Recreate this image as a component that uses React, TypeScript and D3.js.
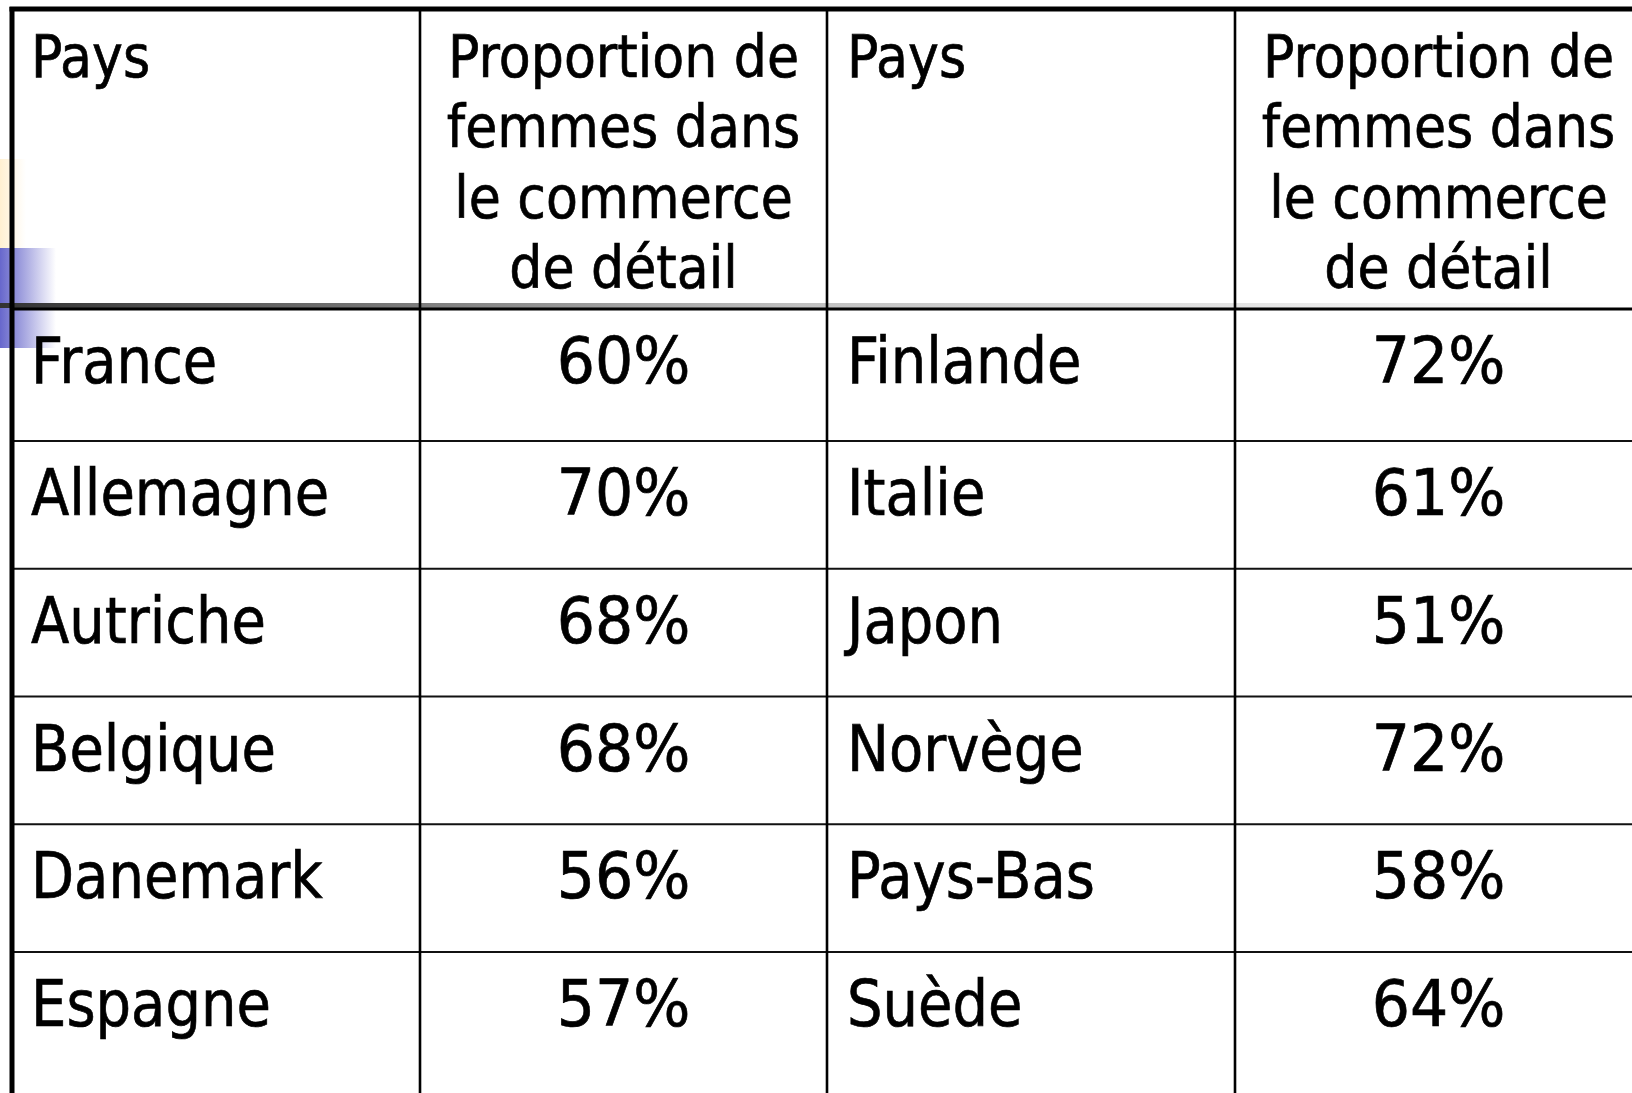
import React from "react";
import * as d3 from "d3";

const headerCountry = "Pays";
const headerValueLines = ["Proportion de", "femmes dans", "le commerce", "de détail"];
const leftCountries = ["France", "Allemagne", "Autriche", "Belgique", "Danemark", "Espagne"];
const leftValues = [60, 70, 68, 68, 56, 57];
const rightCountries = ["Finlande", "Italie", "Japon", "Norvège", "Pays-Bas", "Suède"];
const rightValues = [72, 61, 51, 72, 58, 64];

const W = 1632;
const H = 1093;
const FONT = "'DejaVu Sans', Verdana, sans-serif";

export default function App() {
  const colX = d3.scaleLinear().domain([0, 4]).range([12, 1642]);
  const c = [12, 420, 827, 1235, 1642].map((v, i) => (i === 0 || i === 4 ? colX(i) : v));
  const rowLine = d3.scaleLinear().domain([1, 5]).range([441, 952]);
  const rowTop = (i: number) => (i === 0 ? 309 : rowLine(i));
  const headerLine = d3.scaleLinear().domain([0, 3]).range([77, 288]);
  const fmt = (v: number) => `${v}%`;

  const textEl = (
    key: string,
    x: number,
    y: number,
    s: string,
    size: number,
    sx: number,
    anchor: "start" | "middle" = "start"
  ) => (
    <g key={key} transform={`translate(${x},${y}) scale(${sx},1)`}>
      <text
        x={0}
        y={0}
        fontFamily={FONT}
        fontSize={size}
        textAnchor={anchor}
        fill="#000"
        stroke="#000"
        strokeWidth={0.7}
      >
        {s}
      </text>
    </g>
  );

  const mid = (a: number, b: number) => (a + b) / 2;

  return (
    <svg
      width={W}
      height={H}
      style={{ position: "absolute", left: 0, top: 0, background: "#fff" }}
    >
      <defs>
        <linearGradient id="yel" x1="0" x2="1" y1="0" y2="0">
          <stop offset="0" stopColor="#fff0d2" />
          <stop offset="1" stopColor="#ffffff" />
        </linearGradient>
        <linearGradient id="blu" x1="0" x2="1" y1="0" y2="0">
          <stop offset="0" stopColor="#6767cc" />
          <stop offset="0.35" stopColor="#9a9adc" />
          <stop offset="1" stopColor="#ffffff" />
        </linearGradient>
        <linearGradient id="gry" gradientUnits="userSpaceOnUse" x1="0" x2={W} y1="0" y2="0">
          <stop offset="0" stopColor="#333333" />
          <stop offset={400 / W} stopColor="#7a7a7a" />
          <stop offset={800 / W} stopColor="#c0c0c0" />
          <stop offset={1400 / W} stopColor="#f0f0f0" />
          <stop offset="1" stopColor="#ffffff" />
        </linearGradient>
      </defs>
      <rect x={0} y={0} width={W} height={H} fill="#fff" />
      <rect x={0} y={159} width={26} height={89} fill="url(#yel)" />
      <rect x={0} y={248} width={56} height={100} fill="url(#blu)" />
      <rect x={0} y={303} width={W} height={5} fill="url(#gry)" />

      {[1, 2, 3, 4, 5].map((i) => (
        <line key={`r${i}`} x1={c[0]} x2={W} y1={rowTop(i)} y2={rowTop(i)} stroke="#111" strokeWidth={2} />
      ))}
      <line x1={c[0]} x2={W} y1={309} y2={309} stroke="#000" strokeWidth={3} />

      {[1, 2, 3].map((i) => (
        <line key={`v${i}`} x1={c[i]} x2={c[i]} y1={9} y2={H} stroke="#000" strokeWidth={2.6} />
      ))}
      <line x1={c[0]} x2={c[0]} y1={7} y2={H} stroke="#000" strokeWidth={5} />
      <line x1={c[0] - 2.5} x2={W} y1={9} y2={9} stroke="#000" strokeWidth={5} />

      {textEl("h1", c[0] + 19, headerLine(0), headerCountry, 58, 0.9)}
      {textEl("h3", c[2] + 20, headerLine(0), headerCountry, 58, 0.9)}
      {headerValueLines.map((s, j) => textEl(`hl${j}`, mid(c[1], c[2]), headerLine(j), s, 58, 0.9, "middle"))}
      {headerValueLines.map((s, j) => textEl(`hr${j}`, mid(c[3], c[4]), headerLine(j), s, 58, 0.9, "middle"))}

      {leftCountries.map((s, i) => textEl(`lc${i}`, c[0] + 19, rowTop(i) + 74, s, 64, 0.875))}
      {leftValues.map((v, i) => textEl(`lv${i}`, mid(c[1], c[2]), rowTop(i) + 74, fmt(v), 64, 0.94, "middle"))}
      {rightCountries.map((s, i) => textEl(`rc${i}`, c[2] + 20, rowTop(i) + 74, s, 64, 0.875))}
      {rightValues.map((v, i) => textEl(`rv${i}`, mid(c[3], c[4]), rowTop(i) + 74, fmt(v), 64, 0.94, "middle"))}
    </svg>
  );
}
